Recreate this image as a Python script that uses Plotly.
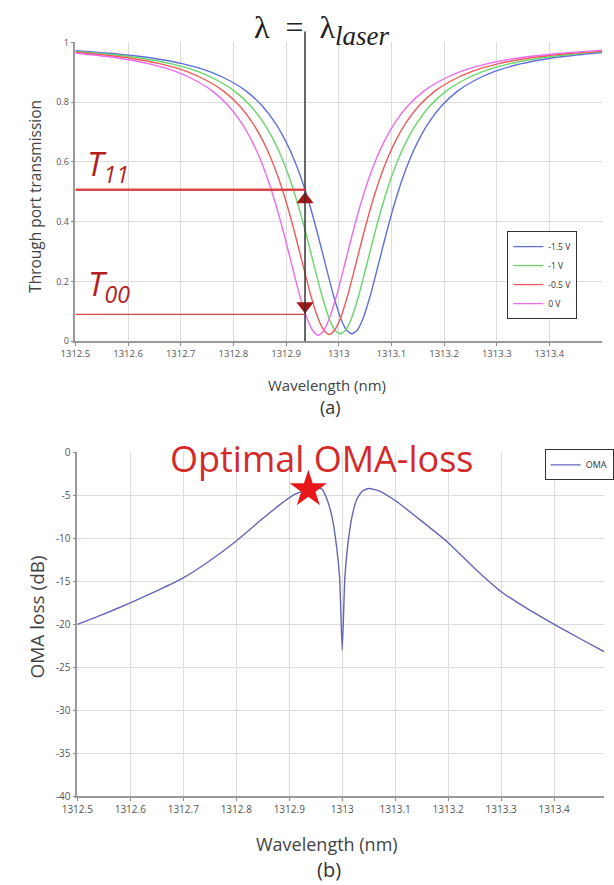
import plotly.graph_objects as go

W, H = 614, 885

# ---- transmission spectra (through port) for four bias voltages ----
wl_m15 = [1312.500, 1312.575, 1312.645, 1312.705, 1312.755, 1312.795, 1312.825, 1312.855, 1312.880,
          1312.900, 1312.915, 1312.930, 1312.945, 1312.960, 1312.975, 1312.990, 1313.005, 1313.015,
          1313.025, 1313.035, 1313.045, 1313.060, 1313.075, 1313.090, 1313.105, 1313.120, 1313.135,
          1313.150, 1313.170, 1313.195, 1313.225, 1313.255, 1313.295, 1313.345, 1313.405, 1313.475,
          1313.500]
t_m15 = [0.972, 0.962, 0.948, 0.928, 0.902, 0.870, 0.836, 0.787, 0.729,
         0.667, 0.609, 0.539, 0.455, 0.359, 0.255, 0.153, 0.071, 0.037,
         0.025, 0.037, 0.071, 0.153, 0.255, 0.359, 0.455, 0.539, 0.609,
         0.667, 0.729, 0.787, 0.836, 0.870, 0.902, 0.928, 0.948, 0.962,
         0.966]

wl_m10 = [1312.500, 1312.553, 1312.623, 1312.683, 1312.733, 1312.773, 1312.803, 1312.833, 1312.858,
          1312.878, 1312.893, 1312.908, 1312.923, 1312.938, 1312.953, 1312.968, 1312.983, 1312.993,
          1313.003, 1313.013, 1313.023, 1313.038, 1313.053, 1313.068, 1313.083, 1313.098, 1313.113,
          1313.128, 1313.148, 1313.173, 1313.203, 1313.233, 1313.273, 1313.323, 1313.383, 1313.453,
          1313.500]
t_m10 = [0.970, 0.962, 0.948, 0.928, 0.902, 0.870, 0.836, 0.787, 0.729,
         0.667, 0.609, 0.539, 0.455, 0.359, 0.255, 0.153, 0.071, 0.037,
         0.025, 0.037, 0.071, 0.153, 0.255, 0.359, 0.455, 0.539, 0.609,
         0.667, 0.729, 0.787, 0.836, 0.870, 0.902, 0.928, 0.948, 0.962,
         0.969]

wl_m05 = [1312.500, 1312.532, 1312.602, 1312.662, 1312.712, 1312.752, 1312.782, 1312.812, 1312.837,
          1312.857, 1312.872, 1312.887, 1312.902, 1312.917, 1312.932, 1312.947, 1312.962, 1312.972,
          1312.982, 1312.992, 1313.002, 1313.017, 1313.032, 1313.047, 1313.062, 1313.077, 1313.092,
          1313.107, 1313.127, 1313.152, 1313.182, 1313.212, 1313.252, 1313.302, 1313.362, 1313.432,
          1313.500]
t_m05 = [0.967, 0.962, 0.948, 0.928, 0.902, 0.870, 0.836, 0.787, 0.729,
         0.667, 0.609, 0.539, 0.455, 0.359, 0.255, 0.153, 0.071, 0.037,
         0.023, 0.037, 0.071, 0.153, 0.255, 0.359, 0.455, 0.539, 0.609,
         0.667, 0.729, 0.787, 0.836, 0.870, 0.902, 0.928, 0.948, 0.962,
         0.971]

wl_0 = [1312.500, 1312.511, 1312.581, 1312.641, 1312.691, 1312.731, 1312.761, 1312.791, 1312.816,
        1312.836, 1312.851, 1312.866, 1312.881, 1312.896, 1312.911, 1312.926, 1312.941, 1312.951,
        1312.961, 1312.971, 1312.981, 1312.996, 1313.011, 1313.026, 1313.041, 1313.056, 1313.071,
        1313.086, 1313.106, 1313.131, 1313.161, 1313.191, 1313.231, 1313.281, 1313.341, 1313.411,
        1313.500]
t_0 = [0.964, 0.962, 0.948, 0.928, 0.902, 0.870, 0.836, 0.787, 0.729,
       0.667, 0.609, 0.539, 0.455, 0.359, 0.255, 0.153, 0.071, 0.035,
       0.02, 0.035, 0.071, 0.153, 0.255, 0.359, 0.455, 0.539, 0.609,
       0.667, 0.729, 0.787, 0.836, 0.870, 0.902, 0.928, 0.948, 0.962,
       0.974]

series_names = ["-1.5 V", "-1 V", "-0.5 V", "0 V"]
series_colors = ["#5f6fe0", "#66d866", "#f05a5a", "#ee6aee"]

# ---- OMA loss vs wavelength ----
wl_oma = [1312.50, 1312.55, 1312.60, 1312.65, 1312.70, 1312.75, 1312.80, 1312.85, 1312.88, 1312.91,
          1312.935, 1312.95, 1312.962, 1312.972, 1312.981, 1312.989, 1312.995, 1313.0, 1313.005,
          1313.011, 1313.019, 1313.028, 1313.038, 1313.05, 1313.07, 1313.10, 1313.15, 1313.20,
          1313.25, 1313.30, 1313.35, 1313.40, 1313.45, 1313.495]
oma_db = [-20.0, -18.8, -17.5, -16.1, -14.6, -12.6, -10.3, -7.7, -6.2, -4.9,
          -4.3, -3.95, -4.3, -5.6, -7.6, -10.8, -14.5, -23.0, -14.5,
          -10.5, -7.3, -5.4, -4.5, -4.2, -4.5, -5.6, -8.0, -10.5,
          -13.5, -16.2, -18.2, -20.0, -21.7, -23.2]

# operating point and the two transmission levels
lam_laser = 1312.936
t11 = 0.507
t00 = 0.09
oma_opt = -4.3

x_tick_vals = [1312.5, 1312.6, 1312.7, 1312.8, 1312.9, 1313.0, 1313.1, 1313.2, 1313.3, 1313.4]
x_tick_text = ["1312.5", "1312.6", "1312.7", "1312.8", "1312.9", "1313", "1313.1", "1313.2", "1313.3", "1313.4"]
t_tick_vals = [0, 0.2, 0.4, 0.6, 0.8, 1]
t_tick_text = ["0", "0.2", "0.4", "0.6", "0.8", "1"]
db_tick_vals = [0, -5, -10, -15, -20, -25, -30, -35, -40]
db_tick_text = ["0", "-5", "-10", "-15", "-20", "-25", "-30", "-35", "-40"]


def px(x):
    return x / W


def py(y):
    return 1 - y / H


fig = go.Figure()

for wl, tv, name, col in zip([wl_m15, wl_m10, wl_m05, wl_0], [t_m15, t_m10, t_m05, t_0],
                             series_names, series_colors):
    fig.add_trace(go.Scatter(x=wl, y=tv, name=name, mode="lines",
                             line=dict(color=col, width=1.4, shape="spline", smoothing=0.6),
                             xaxis="x", yaxis="y", legend="legend"))

# arrow heads at the operating wavelength
fig.add_trace(go.Scatter(x=[lam_laser, lam_laser], y=[0.474, 0.118], mode="markers",
                         marker=dict(symbol=["triangle-up", "triangle-down"], size=15, color="#a51616"),
                         showlegend=False, xaxis="x", yaxis="y", hoverinfo="skip"))

fig.add_trace(go.Scatter(x=wl_oma, y=oma_db, name="OMA", mode="lines",
                         line=dict(color="#6565b8", width=1.4, shape="spline", smoothing=0.5),
                         xaxis="x2", yaxis="y2", legend="legend2"))

fig.add_trace(go.Scatter(x=[lam_laser], y=[oma_opt], mode="markers",
                         marker=dict(symbol="star", size=28, color="#e8181a", line=dict(width=0)),
                         showlegend=False, xaxis="x2", yaxis="y2", hoverinfo="skip"))

axis_common = dict(showgrid=True, gridcolor="#dcdcdc", gridwidth=1, zeroline=False,
                   showline=True, linecolor="#9a9a9a", linewidth=1.5,
                   ticks="outside", ticklen=3, tickcolor="#8a8a8a")

fig.update_layout(
    width=W, height=H, margin=dict(l=0, r=0, t=0, b=0),
    paper_bgcolor="white", plot_bgcolor="white",
    xaxis=dict(axis_common, domain=[px(62), px(612)], range=[1312.5, 1313.5],
               tickvals=x_tick_vals, ticktext=x_tick_text, anchor="y",
               tickfont=dict(family="Open Sans", size=9.5, color="#555")),
    yaxis=dict(axis_common, domain=[py(339), py(35)], range=[0, 1],
               tickvals=t_tick_vals, ticktext=t_tick_text, anchor="x",
               tickfont=dict(family="Open Sans", size=9, color="#555")),
    xaxis2=dict(axis_common, domain=[px(64), 1.0], range=[1312.5, 1313.494],
                tickvals=x_tick_vals, ticktext=x_tick_text, anchor="y2",
                tickfont=dict(family="Open Sans", size=10, color="#555")),
    yaxis2=dict(axis_common, domain=[py(802), py(452)], range=[-40, 0],
                tickvals=db_tick_vals, ticktext=db_tick_text, anchor="x2",
                tickfont=dict(family="Open Sans", size=10, color="#555")),
    legend=dict(x=px(513), y=py(227), xanchor="left", yanchor="top",
                bgcolor="white", bordercolor="#333", borderwidth=1,
                font=dict(family="Open Sans", size=8.5, color="#333"),
                itemwidth=30, tracegroupgap=0),
    legend2=dict(x=px(552), y=py(449), xanchor="left", yanchor="top",
                 bgcolor="white", bordercolor="#333", borderwidth=1,
                 font=dict(family="Open Sans", size=9, color="#333"),
                 itemwidth=30),
    showlegend=True,
)

shapes = []
# laser wavelength marker line
shapes.append(dict(type="line", xref="x", yref="paper", x0=lam_laser, x1=lam_laser,
                   y0=py(339), y1=py(24), line=dict(color="#333", width=1.5)))
# transmission levels
shapes.append(dict(type="line", xref="x", yref="y", x0=1312.5, x1=lam_laser, y0=t11, y1=t11,
                   line=dict(color="#d84848", width=2.5)))
shapes.append(dict(type="line", xref="x", yref="y", x0=1312.5, x1=lam_laser, y0=t00, y1=t00,
                   line=dict(color="#d84848", width=1.2)))
fig.update_layout(shapes=shapes)


def label(x, y, text, size, color, family="Open Sans", angle=0):
    return dict(x=px(x), y=py(y), xref="paper", yref="paper", showarrow=False,
                xanchor="center", yanchor="middle", textangle=angle, text=text,
                font=dict(family=family, size=size, color=color))


ann = [
    label(320, 22, "λ\u2002=\u2002λ<sub><i><span style='font-size:27px'>laser</span></i></sub>",
          32, "#222", family="Liberation Serif"),
    label(96, 160, "<i>T<sub>11</sub></i>", 33, "#b41e1e"),
    label(97, 282, "<i>T<sub>00</sub></i>", 33, "#b41e1e"),
    label(320, 458, "Optimal OMA-loss", 36, "#d42a2a"),
    label(325, 383, "Wavelength (nm)", 15, "#444"),
    label(328, 406, "(a)", 18, "#333"),
    label(325, 850, "Wavelength (nm)", 18, "#444"),
    label(327, 876, "(b)", 20, "#333"),
    label(20, 192, "Through port transmission", 15.5, "#444", angle=-90),
    label(22, 620, "OMA loss (dB)", 19, "#444", angle=-90),
]
fig.update_layout(annotations=ann)

fig.write_html("out.html")
